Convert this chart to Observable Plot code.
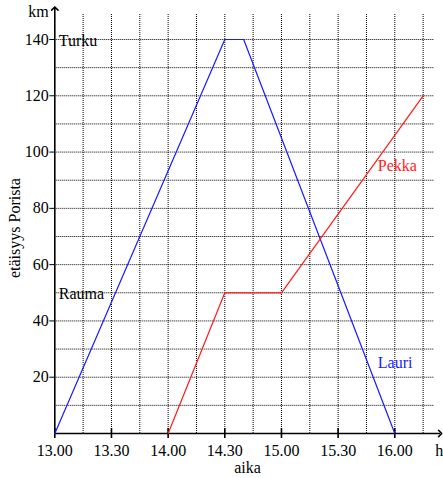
<!DOCTYPE html>
<html>
<head>
<meta charset="utf-8">
<script src="https://cdn.jsdelivr.net/npm/d3@7"></script>
<script src="https://cdn.jsdelivr.net/npm/@observablehq/plot@0.6"></script>
<style>
  html, body { margin: 0; padding: 0; background: #fff; }
  #chart svg { display: block; }
  #chart svg, #chart svg text { font-family: "Liberation Serif", serif !important; font-size: 16px; }
</style>
</head>
<body>
<div id="chart"></div>
<script>
// time strings "h.mm" -> decimal hours
const toH = s => { const [h, m] = s.split("."); return +h + (+m) / 60; };

// Lauri (blue)
const lauriTimes = ["13.00", "14.30", "14.40", "16.00"];
const lauriKm = [0, 140, 140, 0];
// Pekka (red)
const pekkaTimes = ["14.00", "14.30", "15.00", "16.15"];
const pekkaKm = [0, 50, 50, 120];

// axis ticks
const xTickLabels = ["13.00", "13.30", "14.00", "14.30", "15.00", "15.30", "16.00"];
const yTickValues = [20, 40, 60, 80, 100, 120, 140];
// grid
const gridTimes = ["13.15","13.30","13.45","14.00","14.15","14.30","14.45","15.00","15.15","15.30","15.45","16.00","16.15"];
const gridKm = [10, 20, 30, 40, 50, 60, 70, 80, 90, 100, 110, 120, 130, 140];
const gridTop = 149;
const gridRight = "16.21";
// axis extents
const xAxisEnd = "16.24";
const yAxisEnd = 151;

// place labels
const placeNames = ["Turku", "Rauma"];
const placeKm = [140, 50];
const seriesNames = ["Pekka", "Lauri"];
const seriesLabelTimes = ["15.51", "15.51"];
const seriesLabelKm = [95, 25];
const seriesColors = ["#ff1a1a", "#1a1aff"];

const lauri = lauriTimes.map((t, i) => ({t: toH(t), km: lauriKm[i]}));
const pekka = pekkaTimes.map((t, i) => ({t: toH(t), km: pekkaKm[i]}));
const xTicks = xTickLabels.map(s => ({t: toH(s), label: s}));
const places = placeNames.map((n, i) => ({name: n, km: placeKm[i]}));
const seriesLabels = seriesNames.map((n, i) => ({name: n, t: toH(seriesLabelTimes[i]), km: seriesLabelKm[i], color: seriesColors[i]}));

const t0 = toH(xTickLabels[0]);
const tEnd = toH(xTickLabels[xTickLabels.length - 1]);
const F = "Liberation Serif";

const chart = Plot.plot({
  width: 443,
  height: 478,
  marginLeft: 54.3,
  marginRight: 48.7,
  marginTop: 39,
  marginBottom: 45,
  x: {domain: [t0, tEnd], axis: null},
  y: {domain: [0, 140], axis: null},
  style: {fontSize: "16px", fontFamily: "'Liberation Serif', serif", background: "#fff"},
  marks: [
    // grid
    Plot.ruleX(gridTimes.map(toH), {x: d => d, y1: 0, y2: gridTop, stroke: "#000", strokeDasharray: "1 1", strokeWidth: 1}),
    Plot.ruleY(gridKm, {y: d => d, x1: t0, x2: toH(gridRight), stroke: "#000", strokeDasharray: "1 1", strokeWidth: 1}),
    // axes
    Plot.link([0], {x1: t0, y1: 0, x2: toH(xAxisEnd), y2: 0, stroke: "#000", strokeWidth: 1.6, markerEnd: "arrow"}),
    Plot.link([0], {x1: t0, y1: 0, x2: t0, y2: yAxisEnd, stroke: "#000", strokeWidth: 1.6, markerEnd: "arrow"}),
    Plot.ruleX(xTicks, {x: "t", y1: 0, y2: 0, insetTop: -5, insetBottom: -5, stroke: "#000", strokeWidth: 1.6}),
    Plot.ruleY(yTickValues, {y: d => d, x1: t0, x2: t0, insetLeft: -5, stroke: "#000", strokeWidth: 1}),
    // tick labels
    Plot.text(xTicks, {x: "t", y: 0, text: "label", dy: 17, fill: "#000", fontFamily: F}),
    Plot.text(yTickValues, {x: t0, y: d => d, text: d => String(d), textAnchor: "end", dx: -6, fill: "#000", fontFamily: F}),
    Plot.text(["h"], {x: toH(xAxisEnd), y: 0, text: d => d, dy: 17, dx: -1, fill: "#000", fontFamily: F}),
    Plot.text(["km"], {x: t0, y: yAxisEnd, text: d => d, textAnchor: "end", dx: -6, dy: 3, fill: "#000", fontFamily: F}),
    Plot.text(["aika"], {x: (t0 + toH(xAxisEnd)) / 2, y: 0, text: d => d, dy: 34, fill: "#000", fontFamily: F}),
    Plot.text(["etäisyys Porista"], {x: t0, y: 73, text: d => d, rotate: -90, dx: -40, fill: "#000", fontFamily: F}),
    // series
    Plot.line(lauri, {x: "t", y: "km", stroke: seriesColors[1], strokeWidth: 1.2}),
    Plot.line(pekka, {x: "t", y: "km", stroke: seriesColors[0], strokeWidth: 1.2}),
    // labels
    Plot.text(places, {x: t0, y: "km", text: "name", textAnchor: "start", dx: 4, dy: 1, fontSize: 17, fill: "#000", fontFamily: F}),
    Plot.text(seriesLabels, {x: "t", y: "km", text: "name", textAnchor: "start", fontSize: 17, fill: "color", fontFamily: F})
  ]
});
document.getElementById("chart").appendChild(chart);
</script>
</body>
</html>
